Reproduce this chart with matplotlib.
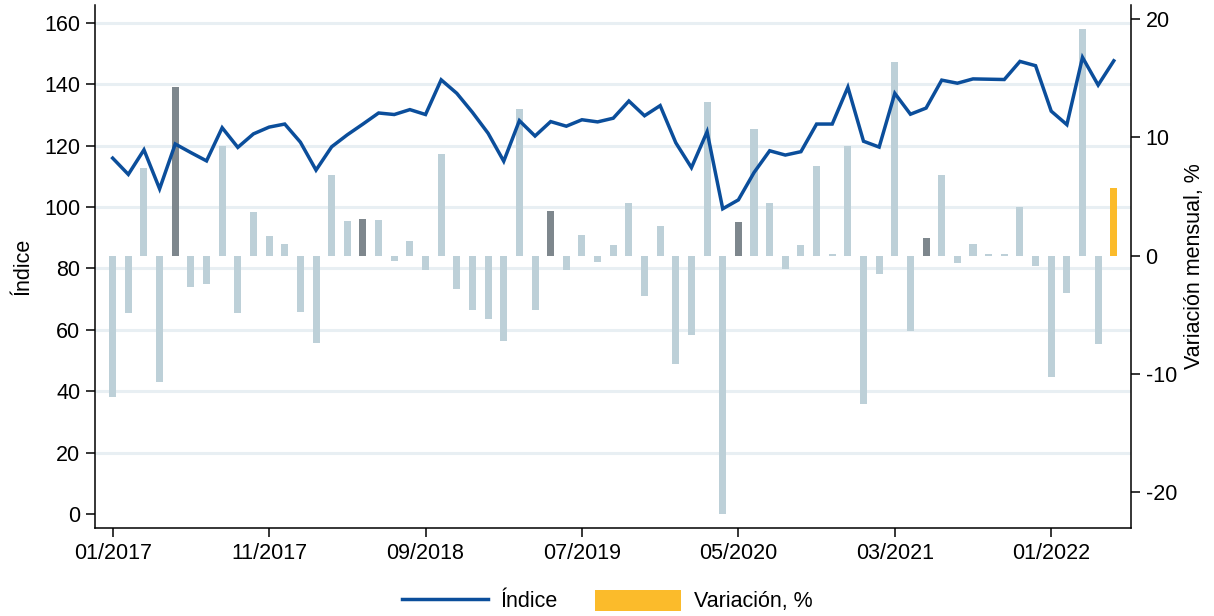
import matplotlib
matplotlib.use("Agg")
import matplotlib.pyplot as plt
from matplotlib.lines import Line2D
from matplotlib.patches import Patch
import numpy as np
import pandas as pd

plt.rcParams['font.family'] = ['Liberation Sans', 'DejaVu Sans']
plt.rcParams['axes.unicode_minus'] = False

months = [p.strftime('%m/%Y') for p in pd.period_range('2017-01', '2022-05', freq='M')]

indice = [115.9, 110.6, 118.6, 105.9, 120.5, 117.7, 115.0, 125.8, 119.4, 123.8,
          126.0, 127.0, 121.1, 112.0, 119.6, 123.5, 127.0, 130.6, 130.1, 131.7,
          130.1, 141.4, 137.0, 130.8, 124.0, 114.9, 128.1, 123.1, 127.8, 126.3,
          128.4, 127.7, 128.9, 134.5, 129.7, 133.0, 120.9, 112.8, 124.5, 99.4,
          102.3, 111.2, 118.3, 116.9, 118.0, 127.0, 127.0, 139.0, 121.4, 119.5,
          137.0, 130.2, 132.2, 141.3, 140.3, 141.7, 141.6, 141.5, 147.4, 146.0,
          131.2, 126.8, 148.7, 139.7, 147.6]

variacion = [-12.0, -4.85, 7.4, -10.7, 14.3, -2.7, -2.4, 9.3, -4.9, 3.7,
             1.65, 0.97, -4.8, -7.4, 6.8, 2.9, 3.1, 3.0, -0.45, 1.2,
             -1.25, 8.6, -2.85, -4.6, -5.4, -7.2, 12.4, -4.65, 3.8, -1.2,
             1.7, -0.55, 0.9, 4.45, -3.4, 2.5, -9.2, -6.7, 13.0, -21.9,
             2.85, 10.7, 4.45, -1.15, 0.9, 7.6, 0.1, 9.3, -12.6, -1.6,
             16.4, -6.35, 1.5, 6.85, -0.6, 0.95, 0.1, 0.1, 4.1, -0.85,
             -10.3, -3.2, 19.2, -7.45, 5.7]

left_ticks = [0, 20, 40, 60, 80, 100, 120, 140, 160]
right_ticks = [-20, -10, 0, 10, 20]

C_LINE = '#0b4e9b'
C_LIGHT = '#bdd0d8'
C_DARK = '#7e878d'
C_YELLOW = '#fbbb2b'
C_GRID = '#e8eff3'
FS = 15.5

x = np.arange(len(months))
last = len(months) - 1
bar_colors = []
for i, m in enumerate(months):
    if i == last:
        bar_colors.append(C_YELLOW)
    elif m.startswith('05/'):
        bar_colors.append(C_DARK)
    else:
        bar_colors.append(C_LIGHT)

fig = plt.figure(figsize=(12.14, 6.16), dpi=100)
pos = [95/1214, 1 - 528/616, (1131-95)/1214, (528-5)/616]

ax = fig.add_axes(pos)           # left scale, grid
ax2 = ax.twinx()                 # bars, right scale
ax3 = fig.add_axes(pos, sharex=ax, sharey=ax)  # line on top
ax3.set_zorder(ax2.get_zorder() + 1)
ax3.patch.set_visible(False)
ax3.axis('off')

xlim = (-1.13, 65.1)
ax.set_xlim(*xlim)
ax.set_ylim(-4.56, 165.77)
ax2.set_ylim(-23.07, 21.21)

for v in left_ticks[1:]:
    ax.axhline(v, color=C_GRID, lw=2.2, zorder=0)

ax2.bar(x, variacion, width=0.45, color=bar_colors, zorder=2)
ax3.plot(x, indice, color=C_LINE, lw=2.5, solid_joinstyle='miter')

ax.set_yticks(left_ticks)
ax2.set_yticks(right_ticks)
ax.set_xticks(x[::10])
ax.set_xticklabels([months[i] for i in x[::10]])

for a in (ax, ax2):
    a.spines['top'].set_visible(False)
    for s in a.spines.values():
        s.set_linewidth(1.1)
    a.tick_params(axis='both', labelsize=FS, length=6.5, width=1.1, direction='out', pad=4)
ax2.spines['left'].set_visible(False)
ax2.spines['bottom'].set_visible(False)
ax.spines['right'].set_visible(False)

ax.set_ylabel('Índice', fontsize=FS, labelpad=8)
ax2.set_ylabel('Variación mensual, %', fontsize=FS, labelpad=5)

handles = [Line2D([0], [0], color=C_LINE, lw=2.5),
           Patch(facecolor=C_YELLOW, edgecolor='none')]
fig.legend(handles, ['Índice', 'Variación, %'], loc='center',
           bbox_to_anchor=(0.5, 1 - 601/616), ncol=2, frameon=False,
           fontsize=FS, handlelength=4.0, handleheight=1.15,
           handletextpad=0.6, columnspacing=1.7)

fig.savefig('out.png', dpi=100)
